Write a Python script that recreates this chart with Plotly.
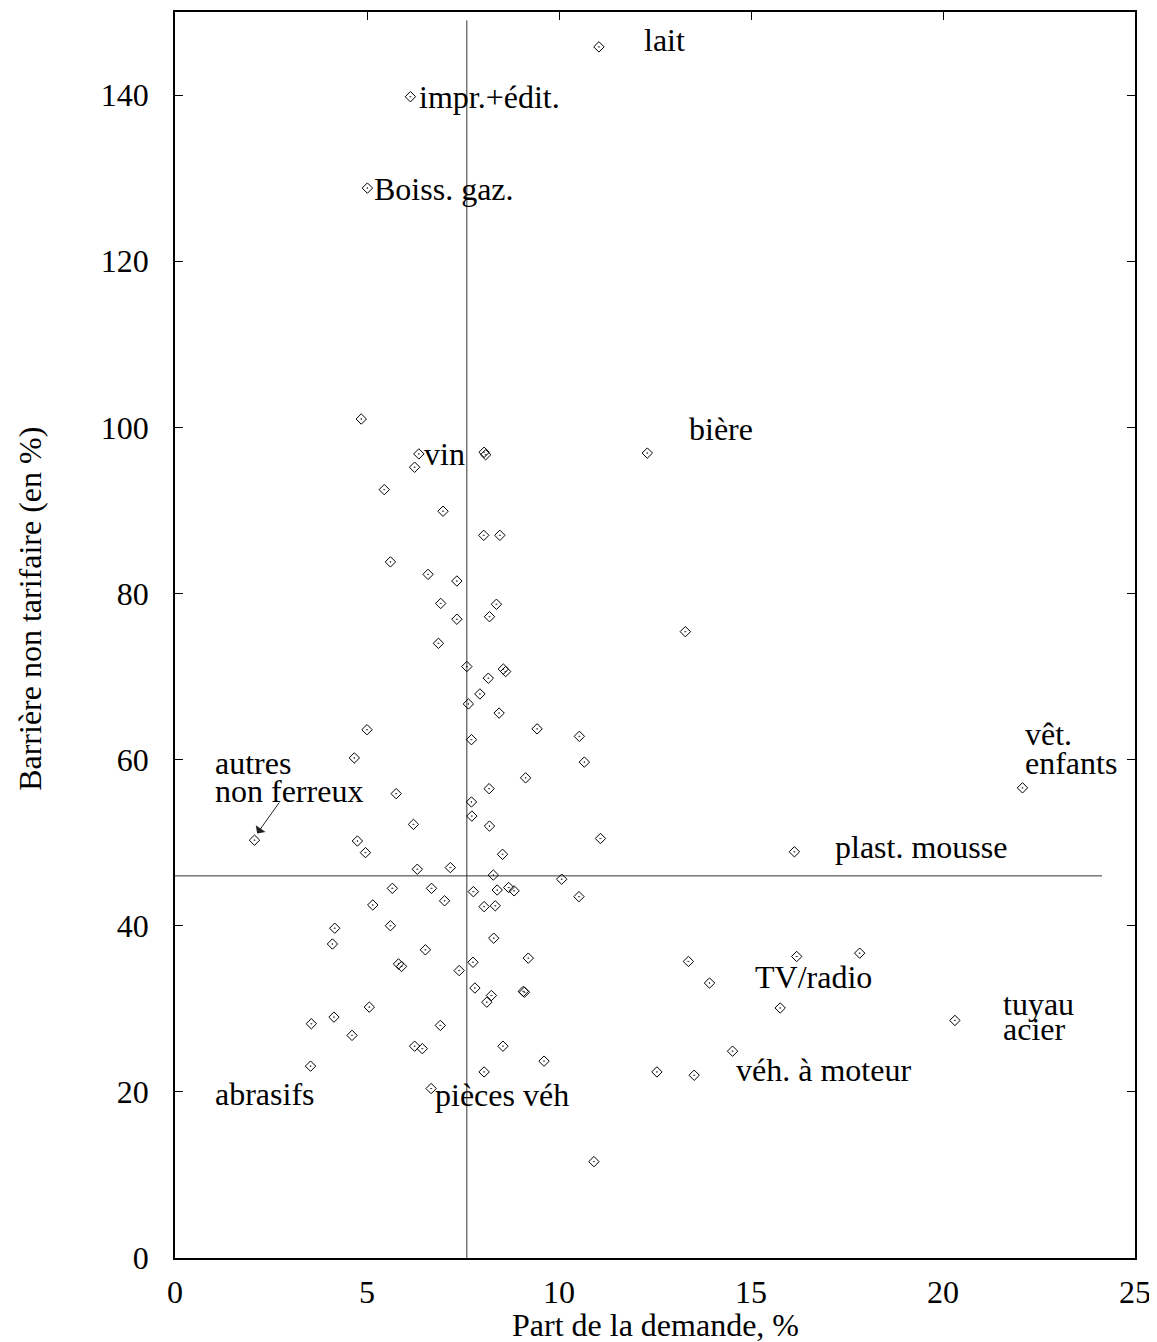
import plotly.graph_objects as go

# ---- data ----
part_demande = [
    11.04, 6.13, 5.01, 4.85, 6.35, 6.24, 8.05, 8.09, 12.30, 5.45,
    6.98, 8.04, 8.46, 5.61, 6.59, 7.34, 6.92, 8.37, 8.19, 7.34,
    13.29, 6.86, 7.60, 8.55, 8.61, 8.16, 7.94, 7.64, 8.44, 5.00,
    9.43, 10.53, 7.72, 10.66, 4.67, 5.76, 9.13, 8.18, 7.72, 7.73,
    6.21, 8.19, 11.08, 2.07, 4.75, 4.96, 8.53, 16.13, 22.07, 6.31,
    7.17, 8.29, 10.07, 5.66, 6.68, 8.39, 8.69, 8.83, 7.77, 7.02,
    10.52, 5.15, 8.05, 8.34, 4.16, 5.61, 8.30, 4.10, 6.52, 9.20,
    5.82, 5.90, 7.76, 7.40, 8.24, 7.81, 8.12, 9.07, 9.10, 5.06,
    4.14, 3.55, 6.91, 4.61, 8.54, 6.24, 6.44, 9.61, 3.53, 8.05,
    6.67, 12.55, 13.52, 14.52, 13.37, 13.92, 15.76, 16.19, 17.83, 20.31,
    10.91,
]
barriere = [
    145.8, 139.8, 128.8, 101.0, 96.8, 95.2, 97.0, 96.7, 96.9, 92.5,
    89.9, 87.0, 87.0, 83.8, 82.3, 81.5, 78.8, 78.7, 77.2, 76.9,
    75.4, 74.0, 71.2, 70.9, 70.6, 69.8, 67.9, 66.7, 65.6, 63.6,
    63.7, 62.8, 62.4, 59.7, 60.2, 55.9, 57.8, 56.5, 54.9, 53.2,
    52.2, 52.0, 50.5, 50.3, 50.2, 48.8, 48.6, 48.9, 56.6, 46.8,
    47.0, 46.1, 45.6, 44.5, 44.5, 44.3, 44.6, 44.2, 44.1, 43.0,
    43.5, 42.5, 42.3, 42.4, 39.7, 40.0, 38.5, 37.8, 37.1, 36.1,
    35.4, 35.1, 35.6, 34.6, 31.6, 32.5, 30.8, 32.1, 32.0, 30.2,
    29.0, 28.2, 28.0, 26.8, 25.5, 25.5, 25.2, 23.7, 23.1, 22.4,
    20.4, 22.4, 22.0, 24.9, 35.7, 33.1, 30.1, 36.3, 36.7, 28.6,
    11.6,
]

# reference (median) lines
median_x = 7.6
median_y = 46.0
hline_x_end = 24.14
vline_y_end = 149.0

# text labels (one entry per text line)
label_text = ["lait", "impr.+édit.", "Boiss. gaz.", "vin", "bière",
              "autres", "non ferreux", "vêt.", "enfants", "plast. mousse",
              "TV/radio", "tuyau", "acier", "véh. à moteur", "abrasifs",
              "pièces véh"]
label_x = [12.16, 6.29, 5.14, 6.42, 13.34, 0.99, 0.99, 22.08, 22.08, 17.14,
           15.06, 21.50, 21.50, 14.56, 0.99, 6.73]
label_y = [146.6, 139.8, 128.7, 96.8, 99.8, 59.6, 56.2, 63.1, 59.6, 49.5,
           33.8, 30.6, 27.6, 22.6, 19.8, 19.6]

# arrow for "autres non ferreux"
arrow_tip = (2.14, 51.1)
arrow_tail = (2.74, 55.0)

x_ticks = [0, 5, 10, 15, 20, 25]
y_ticks = [0, 20, 40, 60, 80, 100, 120, 140]

x_title = "Part de la demande, %"
y_title = "Barrière non tarifaire (en %)"

FONT = "Liberation Serif, Times New Roman, Times, serif"
FS = 32

fig = go.Figure()

fig.add_trace(go.Scatter(
    x=[median_x, median_x], y=[0, vline_y_end], mode="lines",
    line=dict(color="#333333", width=1), hoverinfo="skip", showlegend=False))
fig.add_trace(go.Scatter(
    x=[0, hline_x_end], y=[median_y, median_y], mode="lines",
    line=dict(color="#333333", width=1), hoverinfo="skip", showlegend=False))

fig.add_trace(go.Scatter(
    x=part_demande, y=barriere, mode="markers",
    marker=dict(symbol="diamond-open-dot", size=8, color="black",
                line=dict(width=1, color="black")),
    showlegend=False))

# invisible trace to activate the top axis (for mirrored inside ticks)
fig.add_trace(go.Scatter(x=[0, 25], y=[0, 0], xaxis="x2", mode="markers",
                         marker=dict(opacity=0), hoverinfo="skip",
                         showlegend=False))

annotations = []
for t, lx, ly in zip(label_text, label_x, label_y):
    annotations.append(dict(x=lx, y=ly, xref="x", yref="y", text=t,
                            showarrow=False, xanchor="left", yanchor="middle",
                            font=dict(family=FONT, size=FS, color="black")))

annotations.append(dict(x=arrow_tip[0], y=arrow_tip[1], xref="x", yref="y",
                        ax=arrow_tail[0], ay=arrow_tail[1], axref="x", ayref="y",
                        text="", showarrow=True, arrowhead=1, arrowsize=2,
                        arrowwidth=1, arrowcolor="#222222"))

annotations.append(dict(x=0.5, y=-0.054, xref="paper", yref="paper",
                        text=x_title, showarrow=False, xanchor="center",
                        yanchor="middle",
                        font=dict(family=FONT, size=FS, color="black")))
annotations.append(dict(x=-0.151, y=0.521, xref="paper", yref="paper",
                        text=y_title, showarrow=False, textangle=-90,
                        xanchor="center", yanchor="middle",
                        font=dict(family=FONT, size=FS, color="black")))

fig.update_layout(
    width=1149, height=1334,
    margin=dict(l=167, r=22, t=2, b=84),
    paper_bgcolor="white", plot_bgcolor="white",
    font=dict(family=FONT, size=FS, color="black"),
    annotations=annotations,
    xaxis=dict(range=[0, 25], tickvals=x_ticks, ticktext=[str(v) for v in x_ticks],
               showgrid=False, zeroline=False, showline=True, mirror=True,
               linecolor="black", linewidth=1.5, ticks="",
               ticklabelstandoff=5,
               tickfont=dict(family=FONT, size=FS, color="black")),
    xaxis2=dict(range=[0, 25], overlaying="x", side="top", matches="x",
                tickvals=x_ticks, ticks="inside", ticklen=8, tickwidth=1.2,
                tickcolor="black", showticklabels=False, showgrid=False,
                zeroline=False, showline=False),
    yaxis=dict(range=[0, 150], tickvals=y_ticks, ticktext=[str(v) for v in y_ticks],
               showgrid=False, zeroline=False, showline=True, mirror="ticks",
               linecolor="black", linewidth=1.5, ticks="inside", ticklen=8,
               tickwidth=1.2, tickcolor="black", ticklabelstandoff=18,
               tickfont=dict(family=FONT, size=FS, color="black")),
)

fig.write_html("out.html")
